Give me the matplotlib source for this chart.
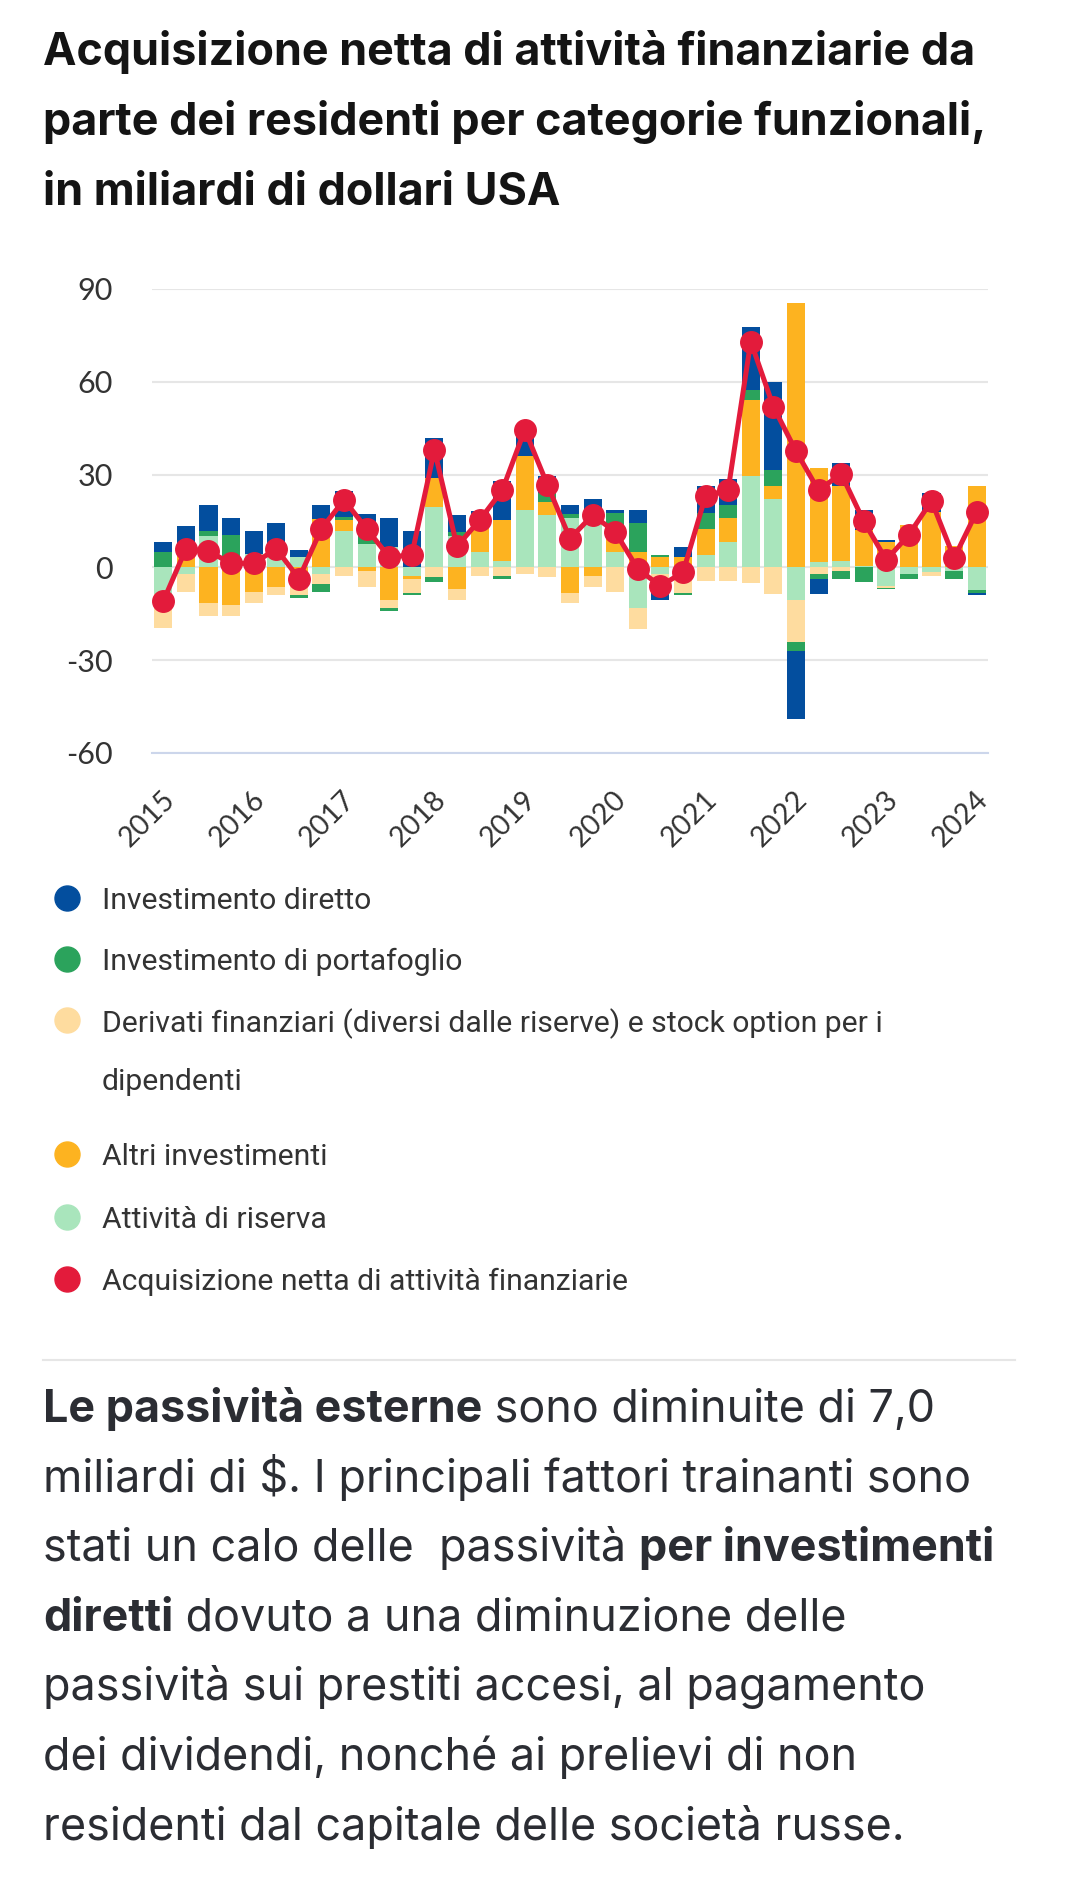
import numpy as np
import matplotlib
matplotlib.use("Agg")
import matplotlib.pyplot as plt
from matplotlib.lines import Line2D
from matplotlib.transforms import ScaledTranslation

plt.rcParams['axes.unicode_minus'] = False

# quarters 2015Q1 .. 2024Q1
quarters = ['%d Q%d' % (y, q) for y in range(2015, 2025) for q in range(1, 5)][:37]

direct = [3.3, 8.8, 8.5, 5.5, 7.3, 8.2, 2.4, 4.6, 8.6, 6.5, 9.5, 11.7, 12.8, 5.4, 1.5, 12.5, 10.0, 5.7, 2.8,
          3.5, 0.8, 4.1, -2.4, 3.2, 8.5, 8.5, 20.5, 28.4, -22.1, -5.0, 7.5, 6.5, 0.7, 0.0, 6.2, 0.0, -0.7]
portfolio = [4.9, 0.0, 1.7, 7.0, 0.0, 0.0, -0.8, -2.5, 0.9, 3.3, -0.9, -0.7, -1.6, 1.5, 0.0, -0.8, 0.0, 2.7, 1.3,
             0.0, 5.7, 9.5, 0.8, -0.7, 5.2, 4.1, 3.3, 5.0, -2.8, -1.7, -2.6, -4.6, -0.6, -1.8, 0.0, -2.6, -0.8]
derivatives = [-11.0, -6.0, -4.3, -3.5, -3.5, -2.6, -6.5, -3.5, -2.9, -5.2, -2.7, -4.6, -3.0, -3.5, -2.9, -2.8, -2.0,
               -3.0, -3.3, -3.6, -7.9, -6.9, -6.2, -6.2, -4.4, -4.4, -5.2, -8.7, -13.6, -2.0, -1.2, 0.0, -0.5, 0.0,
               -1.2, 0.0, 0.0]
other = [0.0, 4.5, -11.5, -12.3, -8.0, -6.3, -2.5, 15.6, 3.6, -1.1, -10.4, -0.9, 9.3, -7.1, 11.8, 13.1, 17.5, 4.4,
         -8.2, -2.7, 7.1, 4.9, 3.3, 3.3, 8.4, 7.9, 24.3, 4.4, 85.4, 30.6, 24.2, 11.5, 8.2, 13.8, 18.0, 6.8, 26.2]
reserve = [-8.5, -2.0, 10.0, 3.5, 4.4, 6.0, 3.3, -2.0, 11.7, 7.6, 6.5, -2.7, 19.6, 10.0, 4.9, 2.2, 18.5, 16.9, 16.1,
           18.5, 4.9, -13.1, -2.0, -2.0, 4.1, 8.2, 29.7, 22.0, -10.6, 1.6, 2.2, 0.5, -6.0, -2.0, -1.5, -1.2, -7.4]
net = [-10.9, 6.0, 5.2, 1.3, 1.3, 6.0, -3.6, 12.5, 21.8, 12.5, 3.3, 4.1, 38.0, 6.8, 15.3, 24.9, 44.5, 26.7, 9.3,
       16.9, 11.5, -0.5, -6.0, -1.6, 23.1, 25.1, 73.0, 52.0, 37.6, 24.9, 30.3, 14.9, 2.4, 10.6, 21.5, 3.0, 18.0]

names = ['Investimento diretto', 'Investimento di portafoglio',
         'Derivati finanziari (diversi dalle riserve) e stock option per i\ndipendenti',
         'Altri investimenti', 'Attività di riserva', 'Acquisizione netta di attività finanziarie']
colors = ['#034e9e', '#2ba35c', '#fedc9f', '#fdb320', '#a9e5bc', '#e31b3b']

W, H = 1080, 1878
fig = plt.figure(figsize=(W / 100, H / 100), dpi=100)


def fy(y):
    return 1 - y / H


ax = fig.add_axes([152 / W, fy(753), (988 - 152) / W, (753 - 289) / H])
x = np.arange(len(quarters))

# stack order from zero outwards: reserve, other, derivatives, portfolio, direct
stack = [(reserve, colors[4]), (other, colors[3]), (derivatives, colors[2]),
         (portfolio, colors[1]), (direct, colors[0])]
pos_b = np.zeros(len(x))
neg_b = np.zeros(len(x))
for vals, c in stack:
    v = np.array(vals)
    p = np.where(v > 0, v, 0)
    n = np.where(v < 0, v, 0)
    ax.bar(x, p, bottom=pos_b, width=0.8, color=c, linewidth=0, zorder=2)
    ax.bar(x, n, bottom=neg_b, width=0.8, color=c, linewidth=0, zorder=2)
    pos_b += p
    neg_b += n

ax.plot(x, net, color=colors[5], lw=3.6, marker='o', markersize=15.5, zorder=4)

ax.set_xlim(-0.5, len(x) - 0.5)
ax.set_ylim(-60, 90)
ax.set_yticks([-60, -30, 0, 30, 60, 90])
ax.grid(axis='y', color='#e6e6e6', lw=1.5, zorder=0)
ax.set_axisbelow(True)
for s in ['top', 'right', 'left']:
    ax.spines[s].set_visible(False)
ax.spines['bottom'].set_color('#ccd6eb')
ax.spines['bottom'].set_linewidth(1.5)

yr_idx = [i for i, q in enumerate(quarters) if q.endswith('Q1')]
ax.set_xticks(yr_idx)
ax.set_xticklabels([quarters[i][:4] for i in yr_idx], rotation=45, ha='right',
                   rotation_mode='anchor', family='Lato', fontsize=20.5, color='#333333')
ax.tick_params(axis='x', length=0, pad=24)
ax.tick_params(axis='y', length=0, pad=28, labelsize=22, labelcolor='#333333')
for lab in ax.get_yticklabels():
    lab.set_family('Lato')
off = ScaledTranslation(-2 / 100, 0, fig.dpi_scale_trans)
for lab in ax.get_xticklabels():
    lab.set_transform(lab.get_transform() + off)

# title
title = ['Acquisizione netta di attività finanziarie da',
         'parte dei residenti per categorie funzionali,',
         'in miliardi di dollari USA']
for k, t in enumerate(title):
    fig.text(43 / W, fy(65 + 70 * k), t, family='Inter', fontweight='bold', fontsize=32.3,
             color='#141414', va='baseline', ha='left')

# legend
leg_y = [898, 959, 1020, 1154, 1217, 1279]
for k in range(6):
    fig.add_artist(Line2D([67 / W], [fy(leg_y[k])], marker='o', markersize=18, color=colors[k],
                          transform=fig.transFigure, linestyle='none'))
    lines = names[k].split('\n')
    for j, ln in enumerate(lines):
        fig.text(102 / W, fy(leg_y[k] + 59 * j), ln, family='Roboto', fontsize=21.7, color='#333333',
                 va='center_baseline', ha='left')

fig.add_artist(Line2D([43 / W, 1015 / W], [fy(1360), fy(1360)], color='#e6e6e6', lw=1.5,
                      transform=fig.transFigure))

# paragraph with bold runs
para = [
    [('Le passività esterne', 'bold'), (' sono diminuite di 7,0', 'normal')],
    [('miliardi di \\$. I principali fattori trainanti sono', 'normal')],
    [('stati un calo delle  passività ', 'normal'), ('per investimenti', 'bold')],
    [('diretti', 'bold'), (' dovuto a una diminuzione delle', 'normal')],
    [('passività sui prestiti accesi, al pagamento', 'normal')],
    [('dei dividendi, nonché ai prelievi di non', 'normal')],
    [('residenti dal capitale delle società russe.', 'normal')],
]
renderer = fig.canvas.get_renderer()
for k, runs in enumerate(para):
    xpos = 43
    for txt, wgt in runs:
        t = fig.text(xpos / W, fy(1422 + 69.6 * k), txt, family='Inter', fontweight=wgt, fontsize=32.3,
                     color='#2b2d33', va='baseline', ha='left')
        xpos += t.get_window_extent(renderer).width

fig.savefig('out.png', dpi=100)
